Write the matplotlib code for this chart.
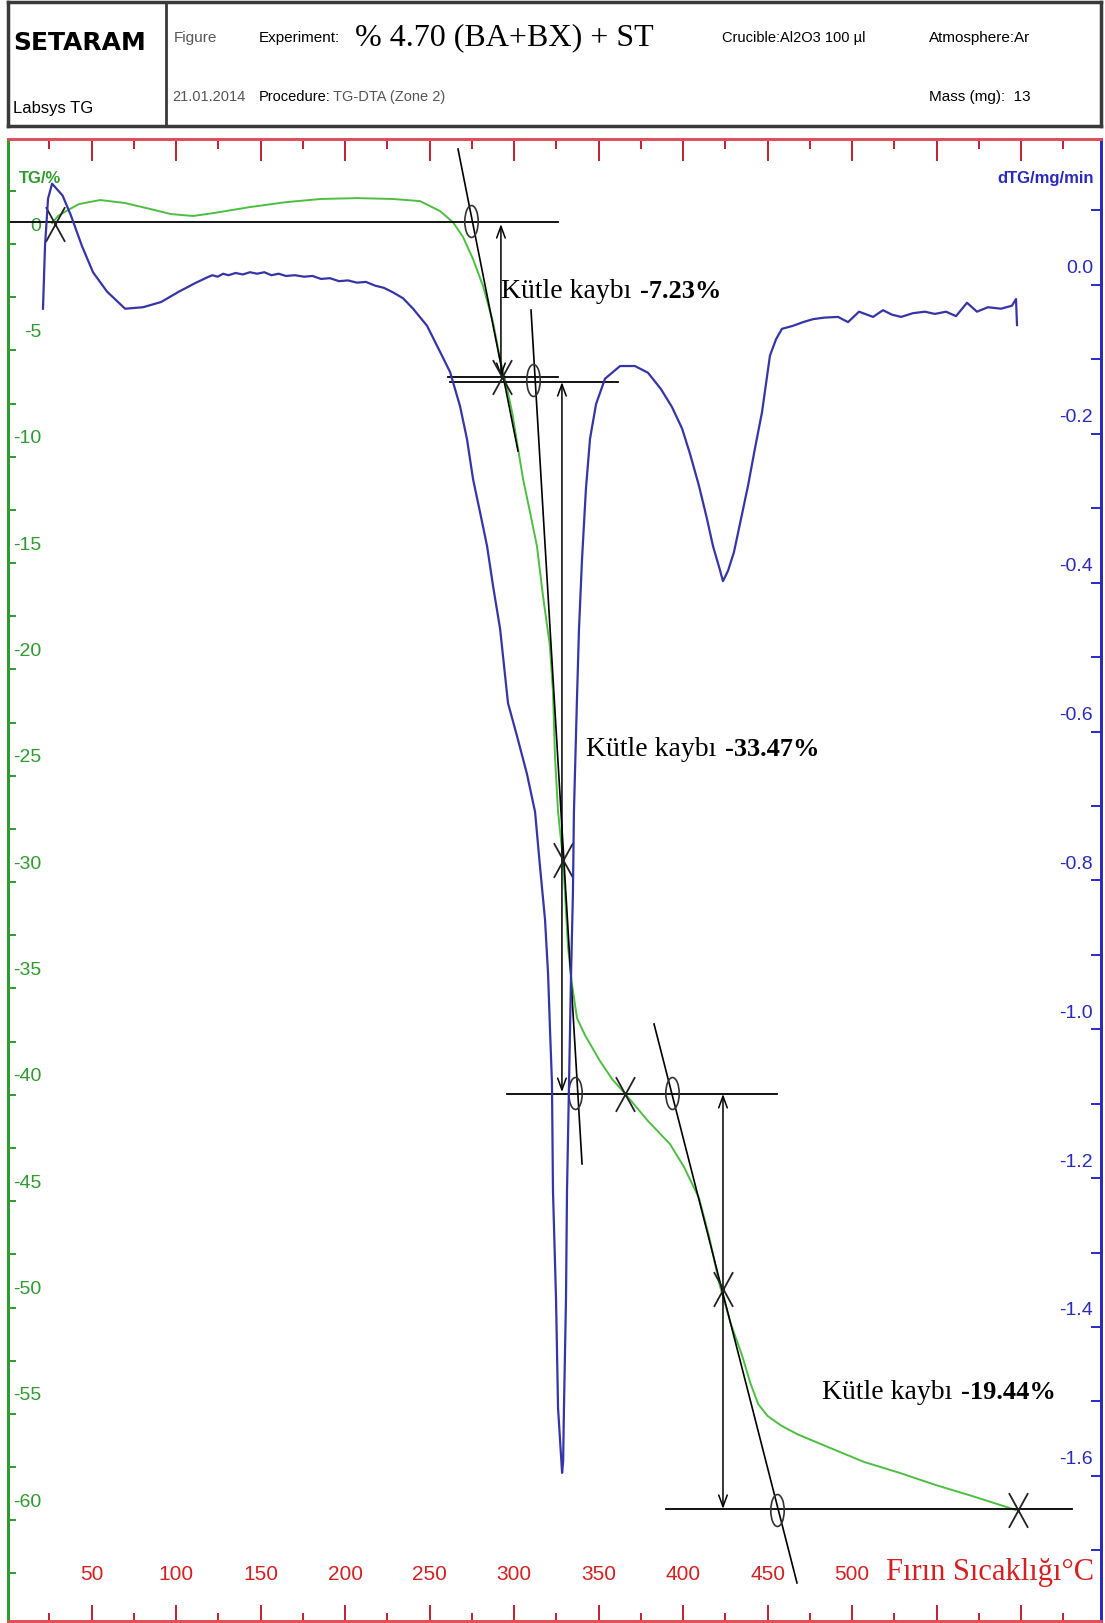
import matplotlib
matplotlib.use("Agg")
import matplotlib.pyplot as plt
from matplotlib.path import Path
from matplotlib.transforms import Affine2D, ScaledTranslation

plt.rcParams["axes.unicode_minus"] = False

NARROW = ["Liberation Sans", "DejaVu Sans"]
SERIF = ["Liberation Serif", "DejaVu Serif"]

# TG curve (green), % vs furnace temperature (degC)
tg_temp = [26.6, 30.1, 34.9, 42.5, 55.0, 69.8, 84.6, 97.0, 110.0, 122.4, 143.7, 165.0,
           185.7, 207.0, 228.3, 244.3, 256.2, 263.8, 269.8, 275.7, 281.6, 287.5, 291.7,
           294.6, 298.8, 301.7, 305.3, 309.4, 313.5, 317.1, 321.2, 323.0, 324.2, 326.0,
           329.0, 331.9, 334.3, 337.2, 341.9, 350.8, 358.0, 365.8, 379.2, 392.2, 400.5,
           409.4, 415.3, 421.8, 428.3, 434.8, 440.0, 444.5, 450.0, 458.0, 467.4, 485.7,
           507.0, 528.3, 549.6, 570.9, 596.9]
tg_val = [0.99, 1.32, 1.55, 1.88, 2.07, 1.93, 1.65, 1.41, 1.32, 1.46, 1.74, 1.97,
          2.12, 2.16, 2.12, 2.02, 1.55, 1.03, 0.33, -0.71, -1.97, -3.67, -5.41,
          -6.35, -7.90, -9.31, -11.05, -12.60, -14.20, -16.55, -18.90, -21.06, -24.12, -26.70,
          -28.96, -33.05, -34.84, -36.39, -37.19, -38.41, -39.26, -39.96, -41.23, -42.31, -43.39,
          -44.85, -46.64, -48.99, -50.78, -52.23, -53.60, -54.55, -55.10, -55.55, -55.95, -56.56,
          -57.26, -57.78, -58.35, -58.86, -59.52]

# dTG curve (blue), mg/min
dtg_temp = [21.2, 22.4, 24.2, 26.6, 32.8, 37.8, 44.3, 50.8, 59.1, 69.8, 80.4, 91.1,
            101.7, 111.8, 118.3, 121.5, 124.6, 127.8, 131.0, 135.2, 139.4, 143.7, 147.9,
            152.2, 156.4, 160.7, 165.0, 170.3, 175.7, 180.7, 185.7, 191.0, 196.4, 201.7,
            207.0, 212.3, 217.7, 223.0, 228.3, 234.3, 240.2, 248.5, 256.2, 262.1, 268.0,
            272.1, 275.7, 279.8, 284.0, 287.5, 291.7, 296.4, 301.7, 307.6, 312.4, 315.3,
            318.3, 320.1, 321.2, 322.4, 323.0, 324.8, 326.0, 328.4, 329.0, 329.5, 330.7,
            331.3, 332.5, 333.7, 334.8, 335.4, 337.2, 338.4, 340.2, 342.5, 344.9, 348.5,
            353.8, 362.7, 371.5, 379.2, 386.9, 393.4, 399.4, 404.1, 409.4, 414.1, 417.7,
            421.3, 423.6, 426.6, 430.1, 434.3, 438.4, 442.5, 446.7, 451.4, 455.0, 458.5,
            465.0, 471.0, 477.0, 483.4, 491.7, 497.6, 504.1, 512.4, 518.3, 523.6, 529.0,
            536.0, 543.1, 549.0, 555.6, 561.5, 568.0, 573.9, 580.4, 588.1, 594.6, 597.0, 597.6]
dtg_val = [-0.032, 0.052, 0.116, 0.136, 0.120, 0.093, 0.052, 0.017, -0.009, -0.032, -0.030, -0.023,
           -0.009, 0.003, 0.010, 0.013, 0.011, 0.015, 0.013, 0.016, 0.014, 0.017, 0.015,
           0.017, 0.013, 0.015, 0.012, 0.013, 0.011, 0.012, 0.008, 0.009, 0.005, 0.006,
           0.003, 0.004, -0.001, -0.004, -0.010, -0.018, -0.032, -0.055, -0.090, -0.117, -0.163,
           -0.207, -0.261, -0.305, -0.351, -0.404, -0.462, -0.562, -0.606, -0.657, -0.708, -0.781,
           -0.853, -0.926, -0.998, -1.072, -1.217, -1.362, -1.509, -1.596, -1.581, -1.509, -1.362,
           -1.217, -1.072, -0.926, -0.817, -0.708, -0.556, -0.462, -0.368, -0.274, -0.207, -0.160,
           -0.126, -0.109, -0.109, -0.118, -0.140, -0.164, -0.193, -0.227, -0.270, -0.314, -0.351,
           -0.379, -0.398, -0.384, -0.359, -0.314, -0.270, -0.220, -0.171, -0.095, -0.073, -0.059,
           -0.055, -0.050, -0.046, -0.044, -0.043, -0.050, -0.036, -0.043, -0.034, -0.040, -0.043,
           -0.038, -0.036, -0.039, -0.036, -0.042, -0.024, -0.036, -0.030, -0.032, -0.028, -0.019, -0.054]

# ticks and labels
temp_major = [50, 100, 150, 200, 250, 300, 350, 400, 450, 500, 550, 600]
temp_minor = [25, 75, 125, 175, 225, 275, 325, 375, 425, 475, 525, 575, 625]
temp_labels = ["50", "100", "150", "200", "250", "300", "350", "400", "450", "500", "", ""]
tg_major = [0, -5, -10, -15, -20, -25, -30, -35, -40, -45, -50, -55, -60]
tg_minor = [2.5, -2.5, -7.5, -12.5, -17.5, -22.5, -27.5, -32.5, -37.5, -42.5,
            -47.5, -52.5, -57.5, -62.5]
dtg_major = [0.0, -0.2, -0.4, -0.6, -0.8, -1.0, -1.2, -1.4, -1.6]
dtg_minor = [0.1, -0.1, -0.3, -0.5, -0.7, -0.9, -1.1, -1.3, -1.5, -1.7]

# construction lines of the step analysis (degC, %)
baselines = [(0.5, 325.9, 1.05), (260.9, 325.9, -6.25), (262.1, 361.5, -6.49),
             (295.8, 455.6, -39.96), (389.9, 630.1, -59.47)]
tangents = [((266.8, 4.47), (302.3, -9.73)),
            ((310.0, -3.10), (340.2, -43.25)),
            ((382.8, -36.67), (467.4, -62.95))]
step_temp = [292.2, 328.3, 423.6]
step_top = [0.94, -6.49, -39.96]
step_bottom = [-6.25, -39.87, -59.47]
cross_temp = [28.3, 292.8, 329.0, 365.8, 423.6, 598.2]
cross_tg = [0.94, -6.25, -28.96, -39.96, -49.13, -59.52]
onset_temp = [274.5, 311.2, 336.0, 393.4, 455.6]
onset_tg = [1.08, -6.39, -39.92, -39.92, -59.52]
loss_values = ["-7.23%", "-33.47%", "-19.44%"]
loss_temp = [292.2, 342.5, 482.2]
loss_tg = [-2.16, -23.74, -53.97]

GREEN = "#4cbf40"
GREEN_AX = "#2f9a2f"
BLUE = "#3535a8"
BLUE_AX = "#2a2ac0"
RED_AX = "#e0505a"
RED_TXT = "#d42020"

fig = plt.figure(figsize=(11.05, 16.24), dpi=100)
fig.patch.set_facecolor("white")

# header block
hx = fig.add_axes([8 / 1105, 1 - 127 / 1624, 1093 / 1105, 124 / 1624])
hx.set_xlim(0, 1093)
hx.set_ylim(124, 0)
hx.set_xticks([])
hx.set_yticks([])
for s in hx.spines.values():
    s.set_linewidth(2.5)
    s.set_color("#3a3a3a")
hx.axvline(158, color="#3a3a3a", lw=2)
hx.text(5, 40, "SETARAM", fontsize=18, fontweight="bold", family="DejaVu Sans", va="center")
hx.text(5, 105, "Labsys TG", fontsize=12, family=NARROW, va="center")
hx.text(166, 35, "Figure", fontsize=11, family=NARROW, va="center", color="#555555")
hx.text(164, 94, "21.01.2014", fontsize=10.5, family=NARROW, va="center", color="#555555")
hx.text(251, 35, "Experiment:", fontsize=11, family=NARROW, va="center")
hx.text(347, 35, "% 4.70 (BA+BX) + ST", fontsize=23, family=SERIF, va="center")
hx.text(251, 94, "Procedure:", fontsize=10.5, family=NARROW, va="center")
hx.text(325, 94, "TG-DTA (Zone 2)", fontsize=10.5, family=NARROW, va="center", color="#555555")
hx.text(714, 35, "Crucible:Al2O3 100 µl", fontsize=10.5, family=NARROW, va="center")
hx.text(921, 35, "Atmosphere:Ar", fontsize=11, family=NARROW, va="center")
hx.text(921, 94, "Mass (mg):  13", fontsize=11, family=NARROW, va="center")

# main plot
ax = fig.add_axes([8 / 1105, 2 / 1624, 1093 / 1105, 1482 / 1624])
ax.set_xlim(0.5, 647.3)
ax.set_ylim(-64.74, 4.94)
ax2 = ax.twinx()
ax2.set_ylim(-1.795, 0.196)

ax.plot(tg_temp, tg_val, color=GREEN, lw=1.4, zorder=2)
ax2.plot(dtg_temp, dtg_val, color=BLUE, lw=1.6)

for t0, t1, y in baselines:
    ax.plot([t0, t1], [y, y], color="black", lw=1.3, zorder=3)
for (t0, y0), (t1, y1) in tangents:
    ax.plot([t0, t1], [y0, y1], color="black", lw=1.2, zorder=3)
for t, ytop, ybot in zip(step_temp, step_top, step_bottom):
    ax.annotate("", xy=(t, ytop), xytext=(t, ybot),
                arrowprops=dict(arrowstyle="<->,head_length=0.6,head_width=0.22",
                                color="black", lw=1.1, shrinkA=0, shrinkB=0, mutation_scale=14),
                zorder=3)

cross = Path([(-0.55, -1), (0.55, 1), (-0.55, 1), (0.55, -1)],
             [Path.MOVETO, Path.LINETO, Path.MOVETO, Path.LINETO])
ellipse = Path.unit_circle().transformed(Affine2D().scale(0.42, 1.0))
ax.plot(cross_temp, cross_tg, ls="none", marker=cross, ms=25, mec="#222222", mew=1.3, zorder=4)
ax.plot(onset_temp, onset_tg, ls="none", marker=ellipse, ms=23, mfc="none",
        mec="#333333", mew=1.2, zorder=4)

for t, y, v in zip(loss_temp, loss_tg, loss_values):
    lab = ax.text(t, y, "Kütle kaybı", family=SERIF, fontsize=20, va="center", zorder=5)
    ax.annotate(v, xy=(1, 0.5), xycoords=lab, xytext=(6, 0), textcoords="offset points",
                family=SERIF, fontsize=19, fontweight="bold", va="center", ha="left", zorder=5)

ax.text(0.9936, 0.0335, "Fırın Sıcaklığı°C", transform=ax.transAxes, family=SERIF,
        fontsize=22, color=RED_TXT, ha="right", va="center")
ax.text(0.010, 0.974, "TG/%", transform=ax.transAxes, family=NARROW, fontsize=12,
        color=GREEN_AX, fontweight="bold", ha="left", va="center")
ax.text(0.9936, 0.974, "dTG/mg/min", transform=ax.transAxes, family=NARROW, fontsize=12,
        color=BLUE_AX, fontweight="bold", ha="right", va="center")

# spines
for a in (ax, ax2):
    a.spines["top"].set_color(RED_AX)
    a.spines["bottom"].set_color(RED_AX)
    a.spines["left"].set_color(GREEN_AX)
    a.spines["right"].set_color(BLUE_AX)
    for s in a.spines.values():
        s.set_linewidth(2)

# x axis: bottom ticks with labels inside, longer ticks on top
ax.set_xticks(temp_major)
ax.set_xticklabels(temp_labels)
ax.set_xticks(temp_minor, minor=True)
ax.tick_params(axis="x", which="both", direction="in", color="#c02030", width=1.4,
               labelcolor=RED_TXT, labelsize=15, pad=-34.5)
ax.tick_params(axis="x", which="major", length=11.5)
ax.tick_params(axis="x", which="minor", length=5.8)
for lab in ax.get_xticklabels():
    lab.set_family(NARROW)
    lab.set_va("center")

secx = ax.secondary_xaxis("top")
secx.set_xticks(temp_major)
secx.set_xticks(temp_minor, minor=True)
secx.set_xticklabels([])
secx.spines["top"].set_color(RED_AX)
secx.spines["top"].set_linewidth(2)
secx.tick_params(axis="x", which="both", direction="in", color="#c02030", width=1.4)
secx.tick_params(axis="x", which="major", length=15.8)
secx.tick_params(axis="x", which="minor", length=7.2)

# left TG axis
ax.set_yticks(tg_major)
ax.set_yticklabels([str(v) for v in tg_major])
ax.set_yticks(tg_minor, minor=True)
ax.tick_params(axis="y", which="both", direction="in", length=5.8, width=1.4,
               color=GREEN_AX, labelcolor=GREEN_AX, labelsize=14, pad=-23.8)
up_tg = ScaledTranslation(0, 21 / 100, fig.dpi_scale_trans)
for tick in ax.yaxis.get_major_ticks():
    tick.label1.set_transform(tick.label1.get_transform() + up_tg)
    tick.label1.set_family(NARROW)

# right dTG axis
ax2.set_yticks(dtg_major)
ax2.set_yticklabels(["%.1f" % v for v in dtg_major])
ax2.set_yticks(dtg_minor, minor=True)
ax2.tick_params(axis="y", which="both", direction="in", length=7.2, width=1.4,
                color=BLUE_AX, labelcolor=BLUE_AX, labelsize=14, pad=-5.8)
up_dtg = ScaledTranslation(0, 19 / 100, fig.dpi_scale_trans)
for tick in ax2.yaxis.get_major_ticks():
    tick.label2.set_transform(tick.label2.get_transform() + up_dtg)
    tick.label2.set_family(NARROW)
    tick.label2.set_ha("right")

fig.savefig("out.png", dpi=100)
